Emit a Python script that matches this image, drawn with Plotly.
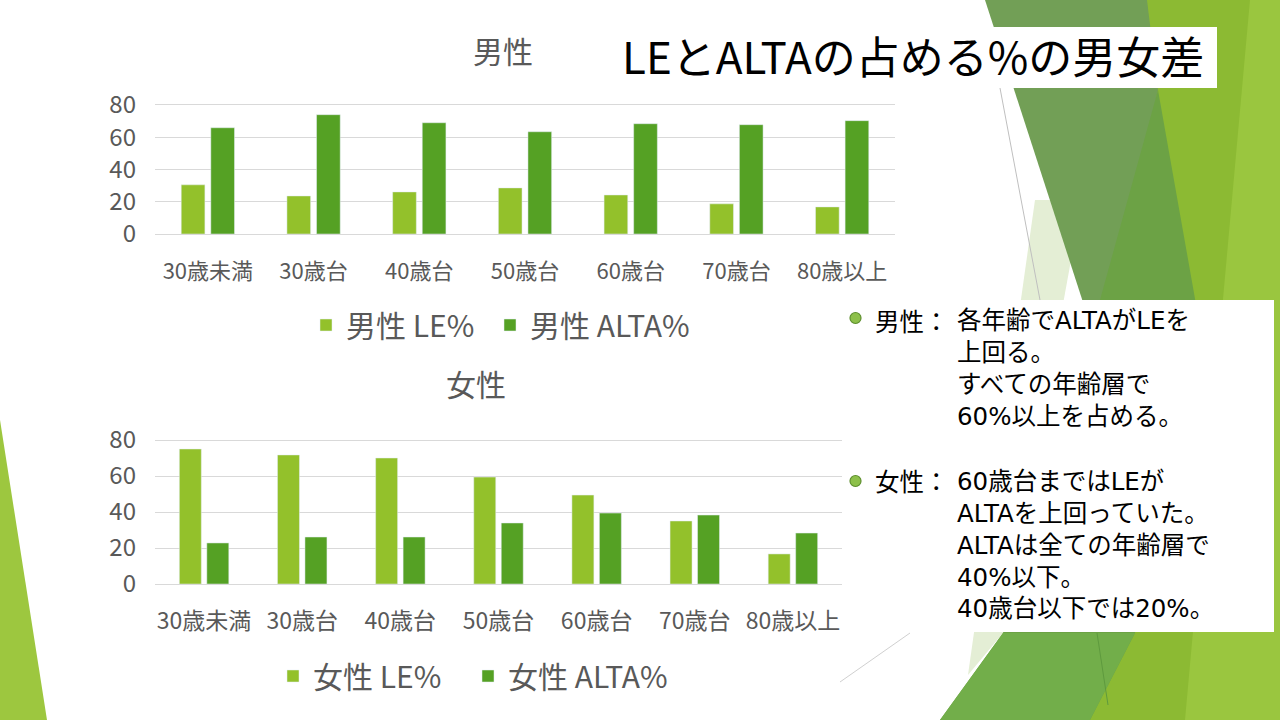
import plotly.graph_objects as go

categories = ["30歳未満", "30歳台", "40歳台", "50歳台", "60歳台", "70歳台", "80歳以上"]
male_le = [30.5, 23.6, 26.1, 28.6, 24.2, 18.7, 16.8]
male_alta = [65.9, 74.0, 69.0, 63.4, 68.4, 67.8, 70.3]
female_le = [75.0, 71.7, 70.0, 59.4, 49.4, 35.0, 16.7]
female_alta = [22.8, 26.1, 26.1, 33.9, 39.4, 38.3, 28.3]
y_ticks = [0, 20, 40, 60, 80]

W, H = 1280, 720
C_LE = "#93C12B"
C_ALTA = "#55A124"
GRAY = "#595959"
GRID = "#D9D9D9"
FONT = "Noto Sans CJK JP"
BODY_FONT = "DejaVu Sans, Noto Sans CJK JP"

def px(x):
    return x / W

def py(y):
    return 1 - y / H

fig = go.Figure()
fig.add_trace(go.Bar(x=categories, y=male_le, name="男性 LE%", marker_color=C_LE,
                     xaxis="x", yaxis="y", legend="legend", showlegend=True))
fig.add_trace(go.Bar(x=categories, y=male_alta, name="男性 ALTA%", marker_color=C_ALTA,
                     xaxis="x", yaxis="y", legend="legend2", showlegend=True))
fig.add_trace(go.Bar(x=categories, y=female_le, name="女性 LE%", marker_color=C_LE,
                     xaxis="x2", yaxis="y2", legend="legend3", showlegend=True))
fig.add_trace(go.Bar(x=categories, y=female_alta, name="女性 ALTA%", marker_color=C_ALTA,
                     xaxis="x2", yaxis="y2", legend="legend4", showlegend=True))

# top chart: 0 at y=234px, 80 at 105px
top_ppu = (234 - 105) / 80
top_max = 82
bot_ppu = (584 - 440) / 80
bot_max = 82

def xaxis_cfg(size, standoff):
    return dict(showgrid=False, showline=True, linecolor=GRID, linewidth=1,
                ticks="", tickfont=dict(family=FONT, size=size, color=GRAY),
                ticklabelstandoff=standoff, fixedrange=True, automargin=False)

yaxis_common = dict(showgrid=True, gridcolor=GRID, gridwidth=1, zeroline=False,
                    tickvals=y_ticks, ticks="", showline=False,
                    tickfont=dict(family=FONT, size=24, color=GRAY),
                    ticklabelstandoff=18, fixedrange=True, automargin=False)

def legend_cfg(x, y):
    return dict(orientation="h", x=px(x), y=py(y), xanchor="left", yanchor="middle",
                font=dict(family=FONT, size=30, color=GRAY), bgcolor="rgba(0,0,0,0)",
                itemwidth=30, tracegroupgap=0, visible=True)

fig.update_layout(
    width=W, height=H,
    showlegend=True,
    margin=dict(l=0, r=0, t=0, b=0, autoexpand=False),
    paper_bgcolor="white", plot_bgcolor="rgba(0,0,0,0)",
    barmode="group", bargap=0.44, bargroupgap=0.2,
    xaxis=dict(domain=[px(155), px(895)], anchor="y", **xaxis_cfg(22, 18)),
    yaxis=dict(domain=[py(234), py(234 - top_max * top_ppu)], range=[0, top_max],
               anchor="x", **yaxis_common),
    xaxis2=dict(domain=[px(155), px(842)], anchor="y2", **xaxis_cfg(23, 16)),
    yaxis2=dict(domain=[py(584), py(584 - bot_max * bot_ppu)], range=[0, bot_max],
                anchor="x2", **yaxis_common),
    legend=legend_cfg(306, 325),
    legend2=legend_cfg(490, 325),
    legend3=legend_cfg(273, 676),
    legend4=legend_cfg(468, 676),
)

shapes = []

def poly(pts, color, layer="below"):
    d = "M " + " L ".join(f"{px(x):.5f},{py(y):.5f}" for x, y in pts) + " Z"
    shapes.append(dict(type="path", path=d, xref="paper", yref="paper",
                       fillcolor=color, line=dict(width=0), layer=layer))

# decorative background (slide theme)
poly([(0, 420), (47, 720), (0, 720)], "#9DC73F")
poly([(1130, 0), (1280, 0), (1280, 720), (1070, 720)], "#8CBA33")
poly([(1250, 0), (1280, 0), (1280, 720), (1185, 720)], "#9AC63F")
poly([(1035, 200), (1082, 200), (1003, 633), (968, 675)], "#E4EED5")
poly([(985, 0), (1147, 0), (1158, 90), (1105, 330), (1092, 330)], "#729F56")
poly([(1158, 90), (1197, 310), (1135, 633), (1090, 720), (940, 720), (1003, 633), (1100, 300)], "#6CA245")
poly([(940, 720), (1003, 633), (1135, 633), (1090, 720)], "#72AE4A")
shapes.append(dict(type="line", xref="paper", yref="paper", x0=px(1000), y0=py(88),
                   x1=px(1040), y1=py(300), line=dict(color="#BFBFBF", width=1), layer="below"))
shapes.append(dict(type="line", xref="paper", yref="paper", x0=px(910), y0=py(633),
                   x1=px(840), y1=py(682), line=dict(color="#D0D0D0", width=1), layer="below"))
shapes.append(dict(type="line", xref="paper", yref="paper", x0=px(1097), y0=py(633),
                   x1=px(1108), y1=py(705), line=dict(color="#5E9A3E", width=1), layer="below"))
# title box and text box
shapes.append(dict(type="rect", xref="paper", yref="paper", x0=px(612), y0=py(88),
                   x1=px(1217), y1=py(27), fillcolor="white", line=dict(width=0), layer="below"))
shapes.append(dict(type="rect", xref="paper", yref="paper", x0=px(837), y0=py(632),
                   x1=px(1274), y1=py(300), fillcolor="white", line=dict(width=0), layer="below"))
# bullets
for cy in (318, 481):
    shapes.append(dict(type="circle", xref="paper", yref="paper",
                       x0=px(850), x1=px(861), y0=py(cy + 5.5), y1=py(cy - 5.5),
                       fillcolor="#8DC04A", line=dict(color="#5E8F2E", width=1.2), layer="above"))
fig.update_layout(shapes=shapes)

ann = []

def text(x, y, s, size, color="black", xanchor="left", yanchor="middle", family=FONT):
    ann.append(dict(x=px(x), y=py(y), xref="paper", yref="paper", text=s, showarrow=False,
                    xanchor=xanchor, yanchor=yanchor, align="left",
                    font=dict(family=family, size=size, color=color)))

text(913, 55, "LEとALTAの占める%の男女差", 44, "black", "center")
text(503, 50, "男性", 30, GRAY, "center")
text(476, 383, "女性", 30, GRAY, "center")

male_lines = ["各年齢でALTAがLEを", "上回る。", "すべての年齢層で", "60%以上を占める。"]
female_lines = ["60歳台まではLEが", "ALTAを上回っていた。", "ALTAは全ての年齢層で",
                "40%以下。", "40歳台以下では20%。"]
BODY = 24.5
text(873, 320, "男性：", BODY, family=FONT)
text(955, 304, "<br>".join(male_lines), BODY, yanchor="top", family=BODY_FONT)
text(873, 481, "女性：", BODY, family=FONT)
text(955, 465, "<br>".join(female_lines), BODY, yanchor="top", family=BODY_FONT)
fig.update_layout(annotations=ann)

fig.write_html("out.html", post_script="document.body.style.margin='0';",
               config={"displayModeBar": False})
